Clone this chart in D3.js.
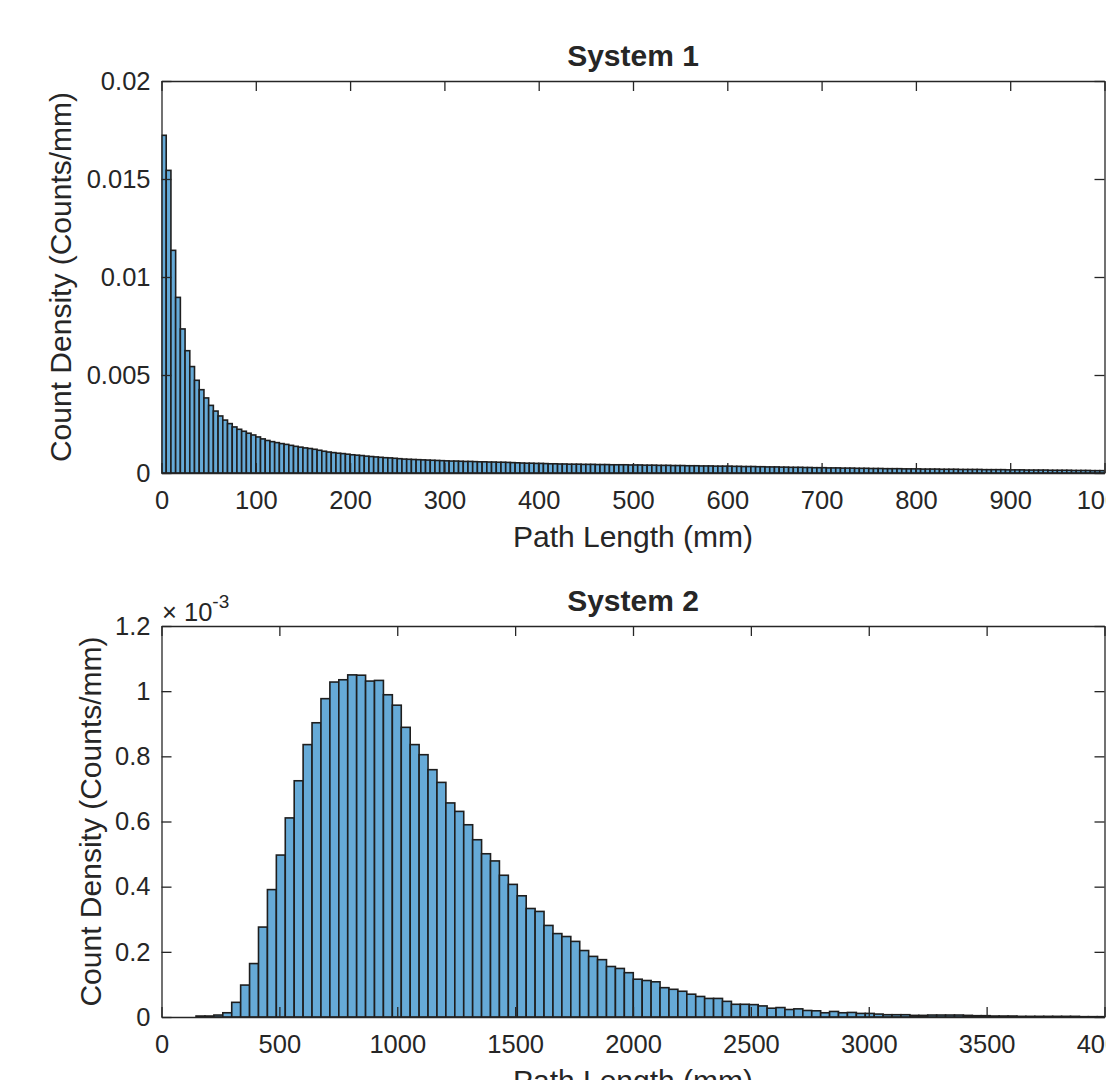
<!DOCTYPE html>
<html>
<head>
<meta charset="utf-8">
<script src="https://cdn.jsdelivr.net/npm/d3@7"></script>
<style>
  html, body { margin: 0; padding: 0; background: #fff; }
  svg { display: block; }
  text { font-family: "Liberation Sans", Arial, Helvetica, sans-serif; fill: #262626; }
</style>
</head>
<body>
<svg id="chart" width="1106" height="1080"></svg>
<script>
// ---------------- DATA ----------------
// System 1: count density per 5 mm bin, 0..1000 mm
const sys1BinStart = 0;
const sys1BinWidth = 5;
const sys1Values = [
  0.01723, 0.01544, 0.01136, 0.00896, 0.00735, 0.00624, 0.00543, 0.00473, 0.00425, 0.00383,
  0.00345, 0.00316, 0.00291, 0.00270, 0.00252, 0.00235, 0.00223, 0.00213, 0.00203, 0.00194,
  0.00184, 0.00174, 0.00166, 0.00160, 0.00155, 0.00150, 0.00146, 0.00141, 0.00136, 0.00132,
  0.00128, 0.00125, 0.00121, 0.00116, 0.00111, 0.00107, 0.00104, 0.00101, 0.00099, 0.00096,
  0.00093, 0.00091, 0.00089, 0.00086, 0.00084, 0.00082, 0.00080, 0.00078, 0.00077, 0.00075,
  0.00073, 0.00071, 0.00070, 0.00069, 0.00068, 0.00067, 0.00066, 0.00065, 0.00064, 0.00063,
  0.00062, 0.00061, 0.00061, 0.00060, 0.00059, 0.00059, 0.00058, 0.00057, 0.00057, 0.00056,
  0.00056, 0.00055, 0.00055, 0.00054, 0.00053, 0.00052, 0.00051, 0.00050, 0.00050, 0.00049,
  0.00049, 0.00048, 0.00047, 0.00047, 0.00046, 0.00046, 0.00045, 0.00045, 0.00045, 0.00044,
  0.00044, 0.00044, 0.00043, 0.00043, 0.00043, 0.00042, 0.00042, 0.00042, 0.00042, 0.00041,
  0.00041, 0.00041, 0.00040, 0.00040, 0.00040, 0.00039, 0.00039, 0.00039, 0.00038, 0.00038,
  0.00038, 0.00037, 0.00037, 0.00037, 0.00036, 0.00036, 0.00036, 0.00035, 0.00035, 0.00035,
  0.00035, 0.00034, 0.00034, 0.00033, 0.00033, 0.00033, 0.00032, 0.00032, 0.00031, 0.00031,
  0.00031, 0.00030, 0.00030, 0.00029, 0.00029, 0.00029, 0.00028, 0.00028, 0.00027, 0.00027,
  0.00027, 0.00026, 0.00026, 0.00026, 0.00025, 0.00025, 0.00025, 0.00024, 0.00024, 0.00024,
  0.00023, 0.00023, 0.00023, 0.00022, 0.00022, 0.00022, 0.00022, 0.00021, 0.00021, 0.00021,
  0.00021, 0.00020, 0.00020, 0.00020, 0.00020, 0.00019, 0.00019, 0.00019, 0.00019, 0.00018,
  0.00018, 0.00018, 0.00018, 0.00018, 0.00017, 0.00017, 0.00017, 0.00017, 0.00017, 0.00016,
  0.00016, 0.00016, 0.00016, 0.00015, 0.00015, 0.00015, 0.00015, 0.00015, 0.00014, 0.00014,
  0.00014, 0.00014, 0.00014, 0.00013, 0.00013, 0.00013, 0.00013, 0.00012, 0.00012, 0.00012
];
const sys1XTicks = [0, 100, 200, 300, 400, 500, 600, 700, 800, 900, 1000];
const sys1YTicks = [0, 0.005, 0.01, 0.015, 0.02];
const sys1YTickLabels = ["0", "0.005", "0.01", "0.015", "0.02"];

// System 2: count density (x 10^-3 counts/mm) per ~37.85 mm bin
const sys2BinStart = 146.5;
const sys2BinWidth = 37.85;
const sys2Values = [
  0.003, 0.003, 0.006, 0.013, 0.045, 0.098, 0.164, 0.276, 0.391, 0.497,
  0.611, 0.725, 0.836, 0.903, 0.977, 1.028, 1.035, 1.050, 1.049, 1.031,
  1.033, 0.989, 0.957, 0.889, 0.836, 0.805, 0.759, 0.720, 0.657, 0.631,
  0.590, 0.544, 0.501, 0.479, 0.435, 0.407, 0.372, 0.333, 0.324, 0.281,
  0.256, 0.247, 0.232, 0.204, 0.186, 0.176, 0.155, 0.149, 0.136, 0.116,
  0.112, 0.108, 0.090, 0.085, 0.079, 0.070, 0.063, 0.057, 0.057, 0.048,
  0.039, 0.039, 0.038, 0.034, 0.027, 0.029, 0.023, 0.025, 0.020, 0.019,
  0.013, 0.017, 0.013, 0.014, 0.011, 0.011, 0.009, 0.007, 0.007, 0.007,
  0.005, 0.005, 0.006, 0.006, 0.006, 0.006, 0.005, 0.004, 0.004, 0.003,
  0.003, 0.003, 0.002, 0.002, 0.002, 0.002, 0.002, 0.002, 0.002, 0.001,
  0.001, 0.001
];
const sys2XTicks = [0, 500, 1000, 1500, 2000, 2500, 3000, 3500, 4000];
const sys2YTicks = [0, 0.2, 0.4, 0.6, 0.8, 1, 1.2];
const sys2YTickLabels = ["0", "0.2", "0.4", "0.6", "0.8", "1", "1.2"];

const titles = ["System 1", "System 2"];
const xLabel = "Path Length (mm)";
const yLabel = "Count Density (Counts/mm)";

// ---------------- DRAW ----------------
const svg = d3.select("#chart");
const axisColor = "#262626";
const barFill = "#66aad7";
const barStroke = "#1e1e1e";
const tickFont = 25.5;
const labelFont = 30;

function panel(cfg) {
  const { left, right, top, bottom, xDomain, yDomain, values, binStart, binWidth,
          xTicks, yTicks, yTickLabels, title, yLabelX, id } = cfg;
  const x = d3.scaleLinear().domain(xDomain).range([left, right]);
  const y = d3.scaleLinear().domain(yDomain).range([bottom, top]);

  svg.append("clipPath").attr("id", id)
    .append("rect").attr("x", left).attr("y", top - 2)
    .attr("width", right - left).attr("height", bottom - top + 4);

  const bins = values.map((v, i) => ({
    x0: binStart + i * binWidth,
    x1: binStart + (i + 1) * binWidth,
    v
  }));

  svg.append("g").attr("clip-path", `url(#${id})`)
    .selectAll("rect").data(bins).join("rect")
    .attr("x", d => x(d.x0))
    .attr("width", d => Math.max(0, x(d.x1) - x(d.x0)))
    .attr("y", d => y(d.v))
    .attr("height", d => y(0) - y(d.v))
    .attr("fill", barFill)
    .attr("stroke", barStroke)
    .attr("stroke-width", 1.6);

  const styleAxis = g => {
    g.selectAll("path.domain").attr("stroke", axisColor).attr("stroke-width", 1.3);
    g.selectAll(".tick line").attr("stroke", axisColor).attr("stroke-width", 1.3);
    g.selectAll(".tick text").attr("fill", axisColor)
      .style("font-family", '"Liberation Sans", Arial, sans-serif')
      .style("font-size", tickFont + "px");
  };

  // bottom axis
  svg.append("g").attr("transform", `translate(0,${bottom})`)
    .call(d3.axisBottom(x).tickValues(xTicks).tickFormat(d3.format("d"))
      .tickSizeInner(-10).tickSizeOuter(0).tickPadding(18))
    .call(styleAxis);
  // top axis (box)
  svg.append("g").attr("transform", `translate(0,${top})`)
    .call(d3.axisTop(x).tickValues(xTicks).tickFormat("")
      .tickSizeInner(-10).tickSizeOuter(0))
    .call(styleAxis);
  // left axis
  svg.append("g").attr("transform", `translate(${left},0)`)
    .call(d3.axisLeft(y).tickValues(yTicks).tickFormat((d, i) => yTickLabels[i])
      .tickSizeInner(-10).tickSizeOuter(0).tickPadding(11))
    .call(styleAxis);
  // right axis (box)
  svg.append("g").attr("transform", `translate(${right},0)`)
    .call(d3.axisRight(y).tickValues(yTicks).tickFormat("")
      .tickSizeInner(-10).tickSizeOuter(0))
    .call(styleAxis);

  // title
  svg.append("text")
    .attr("x", (left + right) / 2).attr("y", top - 15)
    .attr("text-anchor", "middle")
    .style("font-size", labelFont + "px").style("font-weight", "bold")
    .attr("fill", "#000")
    .text(title);

  // x label
  svg.append("text")
    .attr("x", (left + right) / 2).attr("y", bottom + 74)
    .attr("text-anchor", "middle")
    .style("font-size", labelFont + "px")
    .text(xLabel);

  // y label
  svg.append("text")
    .attr("transform", `translate(${yLabelX},${(top + bottom) / 2}) rotate(-90)`)
    .attr("text-anchor", "middle")
    .style("font-size", labelFont + "px")
    .text(yLabel);

  return { x, y };
}

panel({
  id: "clip1", left: 161.5, right: 1104.5, top: 81, bottom: 473,
  xDomain: [0, 1000], yDomain: [0, 0.02],
  values: sys1Values, binStart: sys1BinStart, binWidth: sys1BinWidth,
  xTicks: sys1XTicks, yTicks: sys1YTicks, yTickLabels: sys1YTickLabels,
  title: titles[0], yLabelX: 71
});

panel({
  id: "clip2", left: 161.5, right: 1104.5, top: 626, bottom: 1017,
  xDomain: [0, 4000], yDomain: [0, 1.2],
  values: sys2Values, binStart: sys2BinStart, binWidth: sys2BinWidth,
  xTicks: sys2XTicks, yTicks: sys2YTicks, yTickLabels: sys2YTickLabels,
  title: titles[1], yLabelX: 101
});

// exponent label for System 2 y axis
const expo = svg.append("text")
  .attr("x", 162).attr("y", 621)
  .style("font-size", "25.5px");
expo.append("tspan").text("\u00d7 10");
expo.append("tspan").attr("dy", -13).style("font-size", "19px").text("-3");
</script>
</body>
</html>
